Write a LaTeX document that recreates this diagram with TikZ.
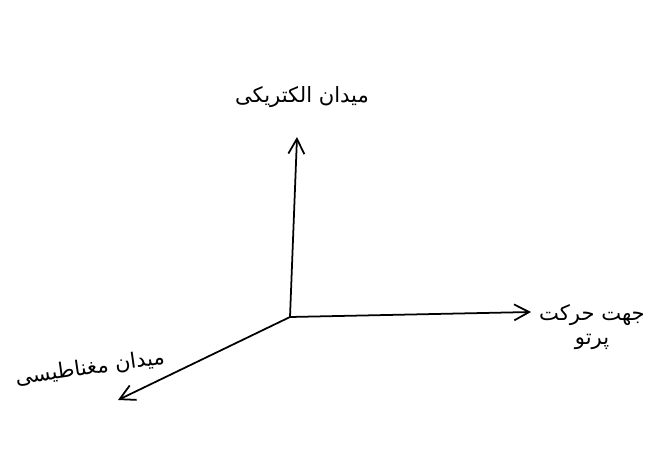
\documentclass[tikz,border=0pt]{standalone}
\usepackage{fontspec}
\usepackage{tikz}
\usetikzlibrary{arrows.meta,positioning}
\newfontfamily\farsifont[Script=Arabic]{DejaVu Sans}
\TeXXeTstate=1

\begin{document}
\begin{tikzpicture}[font=\farsifont\large, >={Straight Barb[length=3mm,width=3.2mm]}]
\begin{scope}[x=0.02cm, y=-0.02cm]
    \useasboundingbox (0,0) rectangle (650,450);
    % Origin and the three axis ends.
    \coordinate (origin) at (290,317);
    \coordinate (efield) at (297,137);
    \coordinate (wave) at (531,312);
    \coordinate (bfield) at (118,400);
    \draw[line width=1pt, ->] (origin) -- (efield);
    \draw[line width=1pt, ->] (origin) -- (wave);
    \draw[line width=1pt, ->] (origin) -- (bfield);
    % Labels.
    \node (elab) at (302,97) {\beginR میدان الکتریکی\endR};
    \node (wlab) at (592,327) [align=center] {\beginR جهت حرکت\endR\\ \beginR پرتو\endR};
    \node (blab) at (90,368) [rotate=8] {\beginR میدان مغناطیسی\endR};
\end{scope}
\end{tikzpicture}
\end{document}
